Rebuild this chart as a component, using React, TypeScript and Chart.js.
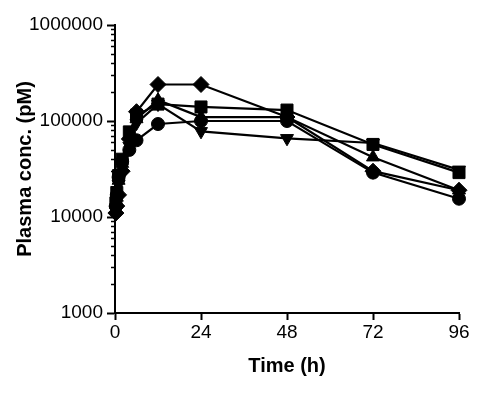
import React, { useEffect, useRef } from "react";
import { Chart, registerables } from "chart.js";

Chart.register(...registerables);

const times = [0.25, 0.5, 1, 2, 4, 6, 12, 24, 48, 72, 96];
const diamondSeries = [11000, 13000, 17000, 30000, 65000, 125000, 240000, 240000, 110000, 30000, 19000];
const squareSeries = [14000, 18000, 27000, 40000, 77000, 115000, 150000, 140000, 130000, 57000, 29000];
const triUpSeries = [12000, 16000, 24000, 36000, 70000, 105000, 165000, 110000, 110000, 42000, 19000];
const triDownSeries = [11500, 15000, 22000, 28000, 55000, 95000, 150000, 78000, 66000, 59000, 31000];
const circleSeries = [13000, 17000, 26000, 38000, 50000, 63000, 93000, 100000, 100000, 29000, 15500];

const xTicks = [0, 24, 48, 72, 96];
const yTicks = [1000, 10000, 100000, 1000000];

const FONT = "'Liberation Sans', Arial, sans-serif";

const minorTicks = {
  id: "minorTicks",
  afterDraw(chart: any) {
    const y = chart.scales.y;
    const ctx = chart.ctx;
    const left = chart.chartArea.left;
    ctx.save();
    ctx.strokeStyle = "#000";
    ctx.lineWidth = 1.5;
    for (let d = 1000; d < 1000000; d *= 10) {
      for (let m = 2; m <= 9; m++) {
        const py = Math.round(y.getPixelForValue(d * m)) + 0.5;
        ctx.beginPath();
        ctx.moveTo(left - 4, py);
        ctx.lineTo(left, py);
        ctx.stroke();
      }
    }
    ctx.restore();
  },
};

function ds(data: number[], style: string, radius: number, rotation = 0) {
  return {
    data: data.map((v, i) => ({ x: times[i], y: v })),
    borderColor: "#000",
    backgroundColor: "#000",
    borderWidth: 2.2,
    pointStyle: style,
    pointRadius: radius,
    pointRotation: rotation,
    pointBorderWidth: 1,
    pointBackgroundColor: "#000",
    pointBorderColor: "#000",
    clip: false,
    tension: 0,
  };
}

export default function App() {
  const ref = useRef<HTMLCanvasElement>(null);
  useEffect(() => {
    if (!ref.current) return;
    const chart = new Chart(ref.current, {
      type: "line",
      data: {
        datasets: [
          ds(circleSeries, "circle", 6.5),
          ds(triDownSeries, "triangle", 7.5, 180),
          ds(triUpSeries, "triangle", 7.5),
          ds(squareSeries, "rect", 8.5),
          ds(diamondSeries, "rectRot", 8),
        ] as any,
      },
      options: {
        animation: false,
        responsive: false,
        maintainAspectRatio: false,
        layout: { padding: { top: 25, right: 43, left: 0, bottom: 0 } },
        plugins: { legend: { display: false }, tooltip: { enabled: false } },
        scales: {
          x: {
            type: "linear",
            min: 0,
            max: 96,
            afterBuildTicks: (s: any) => {
              s.ticks = xTicks.map((v) => ({ value: v }));
            },
            afterFit: (s: any) => {
              s.height = 82;
            },
            border: { display: true, color: "#000", width: 2 },
            grid: {
              drawOnChartArea: false,
              drawTicks: true,
              tickLength: 7,
              tickColor: "#000",
              tickWidth: 2,
            },
            ticks: {
              color: "#000",
              padding: 1,
              maxRotation: 0,
              font: { family: FONT, size: 19 },
            },
            title: {
              display: true,
              text: "Time (h)",
              color: "#000",
              font: { family: FONT, size: 20, weight: "bold" },
              padding: { top: 0, bottom: 17 },
            },
          },
          y: {
            type: "logarithmic",
            min: 1000,
            max: 1000000,
            afterBuildTicks: (s: any) => {
              s.ticks = yTicks.map((v) => ({ value: v }));
            },
            afterFit: (s: any) => {
              s.width = 115;
            },
            border: { display: true, color: "#000", width: 2 },
            grid: {
              drawOnChartArea: false,
              drawTicks: true,
              tickLength: 8,
              tickColor: "#000",
              tickWidth: 2,
            },
            ticks: {
              color: "#000",
              padding: 4,
              font: { family: FONT, size: 19 },
              callback: (v: any) => String(v),
            },
            title: {
              display: true,
              text: "Plasma conc. (pM)",
              color: "#000",
              font: { family: FONT, size: 20, weight: "bold" },
              padding: { top: 13, bottom: 0 },
            },
          },
        },
      },
      plugins: [minorTicks],
    });
    return () => chart.destroy();
  }, []);
  return (
    <div style={{ position: "fixed", left: 0, top: 0, width: 502, height: 395, background: "#fff" }}>
      <canvas ref={ref} width={502} height={395} style={{ width: 502, height: 395, display: "block" }} />
    </div>
  );
}
